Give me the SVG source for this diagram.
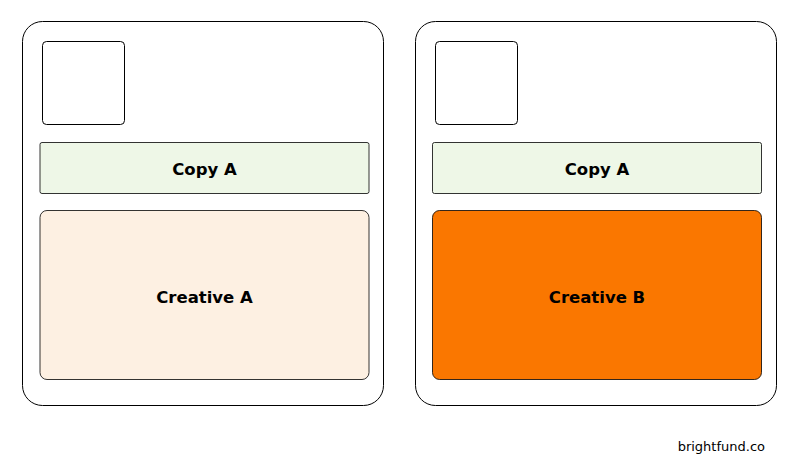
<svg xmlns="http://www.w3.org/2000/svg" width="799" height="469" viewBox="0 0 799 469">
<style>
.card{fill:#fff;stroke:#000;stroke-width:1}
.thumb{fill:#fff;stroke:#000;stroke-width:1}
.copy{fill:#eef7e7;stroke:#000;stroke-width:0.8}
.lbl{font-family:"DejaVu Sans",sans-serif;font-weight:bold;font-size:16.5px;fill:#000;text-anchor:middle}
.foot{font-family:"DejaVu Sans",sans-serif;font-size:13px;fill:#000;text-anchor:end}
</style>
<rect width="799" height="469" fill="#fff"/>
<g id="cardA">
<rect class="card" x="22.5" y="21.5" width="361" height="384" rx="20"/>
<rect class="thumb" x="42.5" y="41.5" width="82" height="83" rx="4"/>
<g id="copyA1"><rect class="copy" x="40" y="142.5" width="329" height="51" rx="2"/><text class="lbl" x="204.5" y="175">Copy A</text></g>
<g id="creativeA"><rect x="40" y="210.5" width="329" height="169" rx="7" fill="#fdf0e2" stroke="#000" stroke-width="0.8"/><text class="lbl" x="204.5" y="303">Creative A</text></g>
</g>
<g id="cardB">
<rect class="card" x="415.5" y="21.5" width="361" height="384" rx="20"/>
<rect class="thumb" x="435.5" y="41.5" width="82" height="83" rx="4"/>
<g id="copyA2"><rect class="copy" x="432.5" y="142.5" width="329" height="51" rx="2"/><text class="lbl" x="597" y="175">Copy A</text></g>
<g id="creativeB"><rect x="432.5" y="210.5" width="329" height="169" rx="7" fill="#fa7700" stroke="#000" stroke-width="0.8"/><text class="lbl" x="597" y="303">Creative B</text></g>
</g>
<g id="connectors"/>
<text class="foot" x="765" y="451">brightfund.co</text>
</svg>
